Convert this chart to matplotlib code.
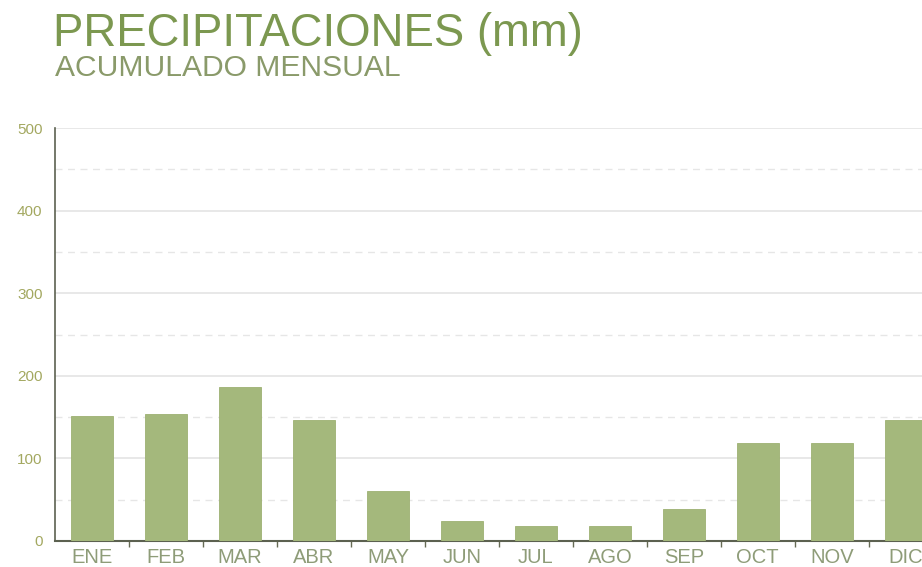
import numpy as np
import matplotlib.pyplot as plt

months = ["ENE", "FEB", "MAR", "ABR", "MAY", "JUN", "JUL", "AGO", "SEP", "OCT", "NOV", "DIC"]
rain_mm = [151, 154, 186, 146, 60, 24, 18, 18, 39, 119, 119, 146]
y_ticks = [0, 100, 200, 300, 400, 500]

bar_color = "#a4b87c"
title_color = "#7c9850"
label_color = "#8e9c78"

plt.rcParams["font.family"] = ["Liberation Sans", "DejaVu Sans"]

fig = plt.figure(figsize=(9.22, 5.67), dpi=100)
ax = fig.add_axes([0.0597, 0.0459, 0.9403, 0.7283])

x = np.arange(len(months))
ax.bar(x, rain_mm, width=0.57, color=bar_color, edgecolor="#9db072", linewidth=0.6, zorder=3)

# solid lines every 100, dashed halfway between
for v in y_ticks[1:]:
    ax.axhline(v, color="#e4e4e4", linewidth=1.2, zorder=1)
for v in range(50, 500, 100):
    ax.axhline(v, color="#e6e6e6", linewidth=1.0, linestyle=(0, (5, 4)), zorder=1)

ax.set_xlim(-0.5, 11.22)
ax.set_ylim(0, 500)
ax.set_yticks(y_ticks)
ax.set_yticklabels([str(v) for v in y_ticks], fontsize=11, color="#a3a860")
ax.set_xticks(x)
ax.set_xticklabels(months, fontsize=14.5, color=label_color)
ax.tick_params(axis="x", length=0, pad=5)
ax.tick_params(axis="y", length=0, pad=9)

# small ticks between months on the baseline
ax.set_xticks(np.arange(0.5, 11.5, 1), minor=True)
ax.tick_params(axis="x", which="minor", length=4, width=1, color="#666b55", direction="out")

for side in ["top", "right"]:
    ax.spines[side].set_visible(False)
ax.spines["left"].set_color("#5c6150")
ax.spines["left"].set_linewidth(1.2)
ax.spines["bottom"].set_color("#5c6150")
ax.spines["bottom"].set_linewidth(1.5)

fig.text(0.0575, 0.919, "PRECIPITACIONES (mm)", fontsize=32.8, color=title_color, va="baseline")
fig.text(0.0597, 0.866, "ACUMULADO MENSUAL", fontsize=21.6, color="#8a9a6a", va="baseline")

fig.savefig("out.png", dpi=100)
